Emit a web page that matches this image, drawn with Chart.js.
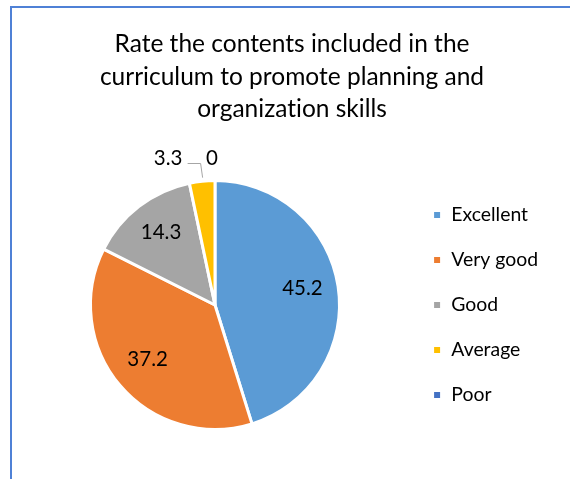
<!DOCTYPE html>
<html>
<head>
<meta charset="utf-8">
<script src="https://cdn.jsdelivr.net/npm/chart.js@4.4.0/dist/chart.umd.min.js"></script>
<style>
  html, body { margin: 0; padding: 0; background: #fff; overflow: hidden; }
  #wrap { position: relative; width: 570px; height: 479px; overflow: hidden; }
  #frame { position: absolute; left: 10px; top: 6px; right: 0; bottom: 0;
           border-top: 2px solid #4f81d6; border-left: 2px solid #4f81d6; }
  #title { position: absolute; left: 12px; top: 27px; width: 560px; text-align: center;
           font-family: Lato, "Open Sans", sans-serif; font-size: 24.5px; line-height: 32.5px; color: #000;
           font-variant-ligatures: none; }
  canvas { position: absolute; left: 0; top: 0; }
</style>
</head>
<body>
<div id="wrap">
  <div id="frame"></div>
  <canvas id="pie" width="570" height="479"></canvas>
  <div id="title"></div>
</div>
<script>
var titleLines = ['Rate the contents included in the', 'curriculum to promote planning and', 'organization skills'];
var categories = ['Excellent', 'Very good', 'Good', 'Average', 'Poor'];
var values = [45.2, 37.2, 14.3, 3.3, 0];
var colors = ['#5b9bd5', '#ed7d31', '#a5a5a5', '#ffc000', '#4472c4'];

var fontFamily = 'Lato, "Open Sans", sans-serif';

document.getElementById('title').innerHTML = titleLines.join('<br>');

// value labels: inside for big slices, outside (with a leader line) for small ones
var sliceLabels = {
    id: 'sliceLabels',
    afterDatasetsDraw: function(chart) {
        var ctx = chart.ctx;
        var meta = chart.getDatasetMeta(0);
        ctx.save();
        ctx.font = '20.5px ' + fontFamily;
        ctx.fillStyle = '#000';
        ctx.textAlign = 'center';
        ctx.textBaseline = 'middle';
        meta.data.forEach(function(arc, i) {
            var p = arc.getProps(['x', 'y', 'startAngle', 'endAngle', 'outerRadius'], true);
            var mid = (p.startAngle + p.endAngle) / 2;
            var v = values[i];
            if (v >= 5) {
                var r = p.outerRadius * 0.71;
                ctx.fillText(String(v), p.x + Math.cos(mid) * r, p.y + Math.sin(mid) * r - 3);
            } else {
                var ex = p.x + Math.cos(mid) * p.outerRadius;
                var ey = p.y + Math.sin(mid) * p.outerRadius;
                var ly = p.y - p.outerRadius - 22;
                if (v > 0) {
                    ctx.strokeStyle = '#a6a6a6';
                    ctx.lineWidth = 1;
                    ctx.beginPath();
                    ctx.moveTo(ex + 0.5, ey - 3.5);
                    ctx.lineTo(ex - 1.5, ly + 5);
                    ctx.lineTo(ex - 14.5, ly + 5);
                    ctx.stroke();
                    ctx.fillText(String(v), ex - 34, ly);
                } else {
                    ctx.fillText(String(v), ex - 3, ly);
                }
            }
        });
        ctx.restore();
    }
};

new Chart(document.getElementById('pie').getContext('2d'), {
    type: 'pie',
    data: {
        labels: categories,
        datasets: [{
            data: values,
            backgroundColor: colors,
            borderColor: '#fff',
            borderWidth: 3,
            radius: 124.5
        }]
    },
    options: {
        responsive: false,
        animation: false,
        layout: { padding: { left: 23, right: 22, top: 160, bottom: 29 } },
        plugins: {
            title: { display: false },
            legend: {
                position: 'right',
                fullSize: false,
                labels: {
                    boxWidth: 9,
                    boxHeight: 9,
                    padding: 25.6,
                    color: '#000',
                    font: { family: fontFamily, size: 19.4 }
                }
            },
            tooltip: { enabled: false }
        }
    },
    plugins: [sliceLabels]
});
</script>
</body>
</html>
